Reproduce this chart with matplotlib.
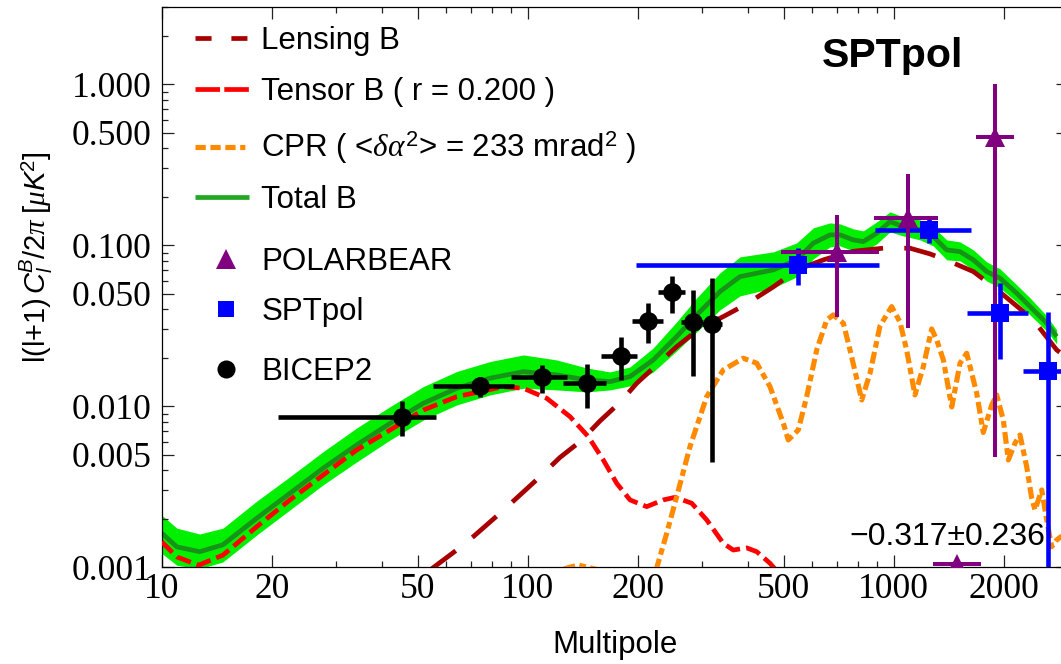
import numpy as np
import matplotlib
matplotlib.use("Agg")
import matplotlib.pyplot as plt
from matplotlib.lines import Line2D
from matplotlib.ticker import FixedLocator, LogLocator, NullFormatter

plt.rcParams['font.family'] = ['Liberation Sans', 'DejaVu Sans']
plt.rcParams['mathtext.fontset'] = 'custom'
plt.rcParams['mathtext.rm'] = 'Liberation Sans'
plt.rcParams['mathtext.it'] = 'Liberation Serif:italic'
plt.rcParams['mathtext.sf'] = 'Liberation Sans:italic'
plt.rcParams['mathtext.bf'] = 'Liberation Sans:bold'

# ---------------- data ----------------
# Tensor B (r = 0.2)
tensor_l = [10.0, 11.0, 12.6, 14.7, 18.2, 22.4, 27.6, 34.1, 42.1, 51.9, 64.0, 74.1, 85.8,
            97.3, 112.7, 130.5, 146.4, 160.9, 175.1, 190.4, 211.4, 234.7, 252.6, 280.6,
            308.4, 342.2, 364.5, 396.7, 422.5, 459.2, 489.0]
tensor_y = [0.00144, 0.00116, 0.00103, 0.00119, 0.00179, 0.00262, 0.00374, 0.00535, 0.00713,
            0.00948, 0.01147, 0.01232, 0.01323, 0.01293, 0.01121, 0.00862, 0.00648, 0.00464,
            0.00332, 0.00262, 0.00238, 0.00262, 0.00272, 0.00250, 0.00197, 0.00141, 0.00128,
            0.00132, 0.00125, 0.00106, 0.00090]

# Lensing B
lens_l = [54.1, 64.0, 71.0, 84.0, 95.3, 106.9, 122.5, 139.0, 157.6, 178.7, 198.6, 225.1,
          255.3, 295.6, 342.2, 392.4, 468.9, 543.2, 642.4, 759.7, 936.7, 1108, 1257, 1426,
          1651, 1872, 2123, 2407, 2788, 3031]
lens_y = [0.000962, 0.001281, 0.001549, 0.002165, 0.002812, 0.003570, 0.004808, 0.006028,
          0.008102, 0.010558, 0.013895, 0.018052, 0.023450, 0.030505, 0.036019, 0.042575,
          0.055068, 0.070258, 0.081052, 0.091235, 0.095803, 0.095803, 0.088281, 0.079107,
          0.068568, 0.055305, 0.043622, 0.034357, 0.022373, 0.019391]

# CPR (<dalpha^2> = 233 mrad^2)
cpr_l = [95.3, 108.1, 122.5, 137.2, 152.7, 173.2, 202.7, 225.1, 239.8, 255.3, 277.6, 308.4,
         342.2, 388.2, 422.5, 459.2, 499.4, 515.3, 548.7, 578.5, 616.2, 656.2, 684.1, 728.6,
         759.7, 817.8, 861.6, 917.5, 987.5, 1040, 1085, 1143, 1205, 1270, 1311, 1367, 1441,
         1518, 1583, 1686, 1757, 1853, 1912, 1993, 2057, 2145, 2214, 2309, 2383, 2433, 2538,
         2619, 2702, 2788, 2864, 3031]
cpr_y = [0.000626, 0.000834, 0.000962, 0.001033, 0.000976, 0.000776, 0.000543, 0.000990,
         0.001626, 0.002745, 0.005610, 0.011473, 0.016806, 0.019868, 0.018502, 0.013238,
         0.007840, 0.006176, 0.007125, 0.011473, 0.022373, 0.034357, 0.036906, 0.032776,
         0.022373, 0.010942, 0.016029, 0.031534, 0.041553, 0.033391, 0.022373, 0.011755,
         0.017618, 0.030201, 0.025812, 0.019391, 0.009900, 0.018502, 0.021342, 0.012044,
         0.006875, 0.010188, 0.011755, 0.008222, 0.004640, 0.005892, 0.006633, 0.004215,
         0.002683, 0.002270, 0.003021, 0.001967, 0.001342, 0.001477, 0.001549, 0.001281]

# Total B with uncertainty band
total_l = [10.0, 11.0, 12.7, 14.7, 18.2, 22.4, 27.6, 34.1, 42.1, 51.9, 64.0, 78.9, 97.3,
           120.0, 145.0, 167.9, 190.3, 220.3, 255.3, 289.6, 335.2, 380.3, 468.9, 543.2,
           603.1, 669.9, 713.3, 775.7, 826.0, 898.7, 977.0, 1062, 1180, 1283, 1396, 1518,
           1651, 1795, 1952, 2169, 2358, 2619, 2788]
total_y = [0.00163, 0.00134, 0.00125, 0.00138, 0.00202, 0.00288, 0.00412, 0.00575, 0.00784,
           0.01044, 0.01294, 0.01493, 0.01640, 0.01565, 0.01457, 0.01422, 0.01527, 0.01939,
           0.02706, 0.03691, 0.05150, 0.06382, 0.07026, 0.08105, 0.1029, 0.1159, 0.1159,
           0.1079, 0.1053, 0.1187, 0.1401, 0.1305, 0.1245, 0.1131, 0.0935, 0.0912, 0.0811,
           0.0686, 0.0624, 0.0503, 0.0416, 0.0328, 0.0271]
band_hi = [0.00211, 0.00175, 0.00161, 0.00175, 0.00258, 0.00365, 0.00522, 0.00733, 0.00996,
           0.01326, 0.01643, 0.01895, 0.02083, 0.01939, 0.01729, 0.01633, 0.01754, 0.02302,
           0.03339, 0.04707, 0.06729, 0.08461, 0.09088, 0.1033, 0.1281, 0.1376, 0.1356,
           0.1263, 0.1227, 0.1395, 0.1610, 0.1499, 0.1436, 0.1299, 0.1079, 0.1048, 0.0935,
           0.0788, 0.0713, 0.0567, 0.0471, 0.0364, 0.0298]
band_lo = [0.00122, 0.00103, 0.00098, 0.00108, 0.00159, 0.00227, 0.00325, 0.00451, 0.00618,
           0.00822, 0.01019, 0.01176, 0.01294, 0.01263, 0.01227, 0.01263, 0.01337, 0.01633,
           0.02206, 0.02893, 0.03965, 0.04843, 0.05429, 0.06355, 0.08222, 0.09760, 0.09900,
           0.09216, 0.09088, 0.1019, 0.1210, 0.1142, 0.1079, 0.0990, 0.0811, 0.0799, 0.0703,
           0.0600, 0.0543, 0.0444, 0.0369, 0.0293, 0.0244]

# BICEP2 bandpowers
bk_l = [45.4, 74.1, 109.6, 145.0, 179.5, 213.6, 248.4, 282.4, 318.2]
bk_llo = [20.8, 55.2, 90.0, 124.6, 158.6, 193.1, 227.5, 261.8, 298.8]
bk_lhi = [56.1, 91.8, 127.8, 163.4, 198.5, 234.7, 269.1, 301.8, 338.9]
bk_y = [0.00862, 0.01337, 0.01514, 0.01401, 0.02062, 0.03387, 0.0515, 0.03353, 0.0323]
bk_ylo = [0.00651, 0.01148, 0.01205, 0.0098, 0.01457, 0.02462, 0.03815, 0.0155, 0.00453]
bk_yhi = [0.01083, 0.0152, 0.01805, 0.01824, 0.02706, 0.0436, 0.0645, 0.0528, 0.0624]

# SPTpol bandpowers
spt_l = [548.7, 1248.9, 1951.8, 2645]
spt_llo = [197.6, 888.9, 1583, 2260]
spt_lhi = [913.3, 1623.5, 2332, 3300]
spt_y = [0.0754, 0.1245, 0.0378, 0.01664]
spt_ylo = [0.0567, 0.1029, 0.0196, 0.0001]
spt_yhi = [0.0958, 0.1472, 0.0581, 0.0387]

# POLARBEAR bandpowers (last one negative -> drawn at the floor)
pb_l = [698.8, 1096.3, 1891.6, 1492]
pb_llo = [492.1, 885.1, 1675, 1283]
pb_lhi = [913.3, 1324.4, 2135, 1729]
pb_y = [0.0912, 0.1472, 0.4727, 0.00105]
pb_ylo = [0.036, 0.03077, 0.00486, 0.00105]
pb_yhi = [0.1542, 0.276, 1.0, 0.00105]
pb_neg_label = "\u22120.317\u00b10.236"
pb_neg_text_pos = (1399, 0.00154)

xticks = [10, 20, 50, 100, 200, 500, 1000, 2000]
yticks = [0.001, 0.005, 0.01, 0.05, 0.1, 0.5, 1.0]
ytick_labels = ['0.001', '0.005', '0.010', '0.050', '0.100', '0.500', '1.000']

# ---------------- style ----------------
C_LENS = '#a80000'
C_TENS = '#ff0000'
C_CPR = '#ff8a00'
C_TOT = '#179417'
C_TOT_LEG = '#22a822'
C_BAND = '#00f000'
C_PB = '#800080'
C_SPT = '#0000ff'
C_BK = '#000000'

LW = 3.4
LW_CPR = 3.7
LS_LENS = (0, (6.8, 4.5))
LS_TENS = (0, (3.2, 1.3))
LS_CPR = (0, (2.3, 0.85, 1.3, 0.85))
LEG_LENS = (0, (3.4, 4.2))
LEG_TENS = (0, (5.2, 0.9))
LEG_CPR = (0, (2.0, 0.9, 2.0, 0.9, 2.0, 0.9, 1.0, 0.9))

W, H = 1061, 664
fig = plt.figure(figsize=(W / 100, H / 100), dpi=100)
ax_l, ax_r, ax_t, ax_b = 161.7, 1068.3, 7.3, 567.3
ax = fig.add_axes([ax_l / W, 1 - ax_b / H, (ax_r - ax_l) / W, (ax_b - ax_t) / H])
ax.set_xscale('log')
ax.set_yscale('log')
ax.set_xlim(10, 3000)
ax.set_ylim(0.001, 3.0)

ax.fill_between(total_l, band_lo, band_hi, color=C_BAND, lw=0, zorder=1)
ax.plot(total_l, total_y, color=C_TOT, lw=LW, zorder=2, solid_capstyle='butt')
ax.plot(lens_l, lens_y, color=C_LENS, lw=LW, ls=LS_LENS, dash_capstyle='butt', zorder=3)
ax.plot(tensor_l, tensor_y, color=C_TENS, lw=LW, ls=LS_TENS, dash_capstyle='butt', zorder=3)
ax.plot(cpr_l, cpr_y, color=C_CPR, lw=LW_CPR, ls=LS_CPR, dash_capstyle='butt', zorder=3)


def bars(l, llo, lhi, y, ylo, yhi, color, lw, z):
    l = np.asarray(l); y = np.asarray(y)
    xe = [l - np.asarray(llo), np.asarray(lhi) - l]
    ye = [y - np.asarray(ylo), np.asarray(yhi) - y]
    ax.errorbar(l, y, xerr=xe, yerr=ye, fmt='none', ecolor=color, elinewidth=lw,
                capsize=0, zorder=z)


bars(spt_l, spt_llo, spt_lhi, spt_y, spt_ylo, spt_yhi, C_SPT, 3.3, 5.0)
bars(pb_l, pb_llo, pb_lhi, pb_y, pb_ylo, pb_yhi, C_PB, 2.9, 5.1)
bars(bk_l, bk_llo, bk_lhi, bk_y, bk_ylo, bk_yhi, C_BK, 3.3, 5.2)
ax.plot(spt_l, spt_y, 's', color=C_SPT, ms=12.5, mew=0, zorder=6)
ax.plot(pb_l, pb_y, '^', color=C_PB, ms=14.5, mew=0, zorder=6)
ax.plot(bk_l, bk_y, 'o', color=C_BK, ms=13.5, mew=0, zorder=6)

ax.text(pb_neg_text_pos[0], pb_neg_text_pos[1], pb_neg_label, fontsize=23,
        ha='center', va='center', zorder=7)
ax.text((893 - ax_l) / (ax_r - ax_l), (ax_b - 56) / (ax_b - ax_t), 'SPTpol',
        transform=ax.transAxes, fontsize=29.5, fontweight='bold', ha='center', va='center')

# ticks
ax.xaxis.set_major_locator(FixedLocator(xticks))
ax.set_xticklabels([str(v) for v in xticks])
ax.xaxis.set_minor_locator(LogLocator(base=10, subs=np.arange(2, 10)))
ax.xaxis.set_minor_formatter(NullFormatter())
ax.yaxis.set_major_locator(FixedLocator(yticks))
ax.set_yticklabels(ytick_labels)
ax.yaxis.set_minor_locator(LogLocator(base=10, subs=np.arange(2, 10)))
ax.yaxis.set_minor_formatter(NullFormatter())
ax.tick_params(which='both', direction='in', top=True, right=True, width=0.9, color='#222222')
ax.tick_params(which='major', length=8.3)
ax.tick_params(which='minor', length=4.2)
ax.tick_params(axis='both', which='major', labelsize=25.5, labelfontfamily='Liberation Serif')
ax.tick_params(axis='x', which='major', pad=4)
ax.tick_params(axis='y', which='major', pad=7)
for s in ax.spines.values():
    s.set_linewidth(0.9)

ax.set_xlabel('Multipole', fontsize=22.5)
ax.xaxis.set_label_coords(0.5, (ax_b - 653.3) / (ax_b - ax_t))
ax.xaxis.label.set_va('baseline')


def fx(px):
    return px / W


def fy(py):
    return 1 - py / H


fig.text(fx(36.7), fy(257), r'l(l+1)$\,\mathsf{C}_{\mathsf{l}}^{\mathsf{B}}/2\pi\;[\mu\mathsf{K}^{2}]$',
         fontsize=21, rotation=90, rotation_mode='anchor', ha='center', va='center')

# legend (drawn manually to match layout)
line_rows = [
    (C_LENS, LEG_LENS, LW, 38.3, 49.3, 'Lensing B'),
    (C_TENS, LEG_TENS, LW, 89.3, 100.0, 'Tensor B ( r = 0.200 )'),
    (C_CPR, LEG_CPR, LW_CPR, 146.7, 156.7, r'CPR ( <$\delta\alpha^{2}$> = 233 mrad$^{2}$ )'),
    (C_TOT_LEG, '-', LW, 196.7, 208.3, 'Total B'),
]
for col, ls, lw, yc, yb, lab in line_rows:
    fig.add_artist(Line2D([fx(195), fx(249)], [fy(yc), fy(yc)], color=col, lw=lw, ls=ls,
                          dash_capstyle='butt', solid_capstyle='butt'))
    fig.text(fx(261.4), fy(yb), lab, fontsize=22.5, va='baseline', ha='left')

marker_rows = [
    (C_PB, '^', 14.5, 259.3, 270.0, 'POLARBEAR'),
    (C_SPT, 's', 12, 309.3, 320.0, 'SPTpol'),
    (C_BK, 'o', 13, 369.3, 380.0, 'BICEP2'),
]
for col, mk, ms, yc, yb, lab in marker_rows:
    fig.add_artist(Line2D([fx(226)], [fy(yc)], color=col, marker=mk, ms=ms, mew=0, ls='none'))
    fig.text(fx(261.4), fy(yb), lab, fontsize=22.5, va='baseline', ha='left')

fig.savefig('out.png', dpi=100)
